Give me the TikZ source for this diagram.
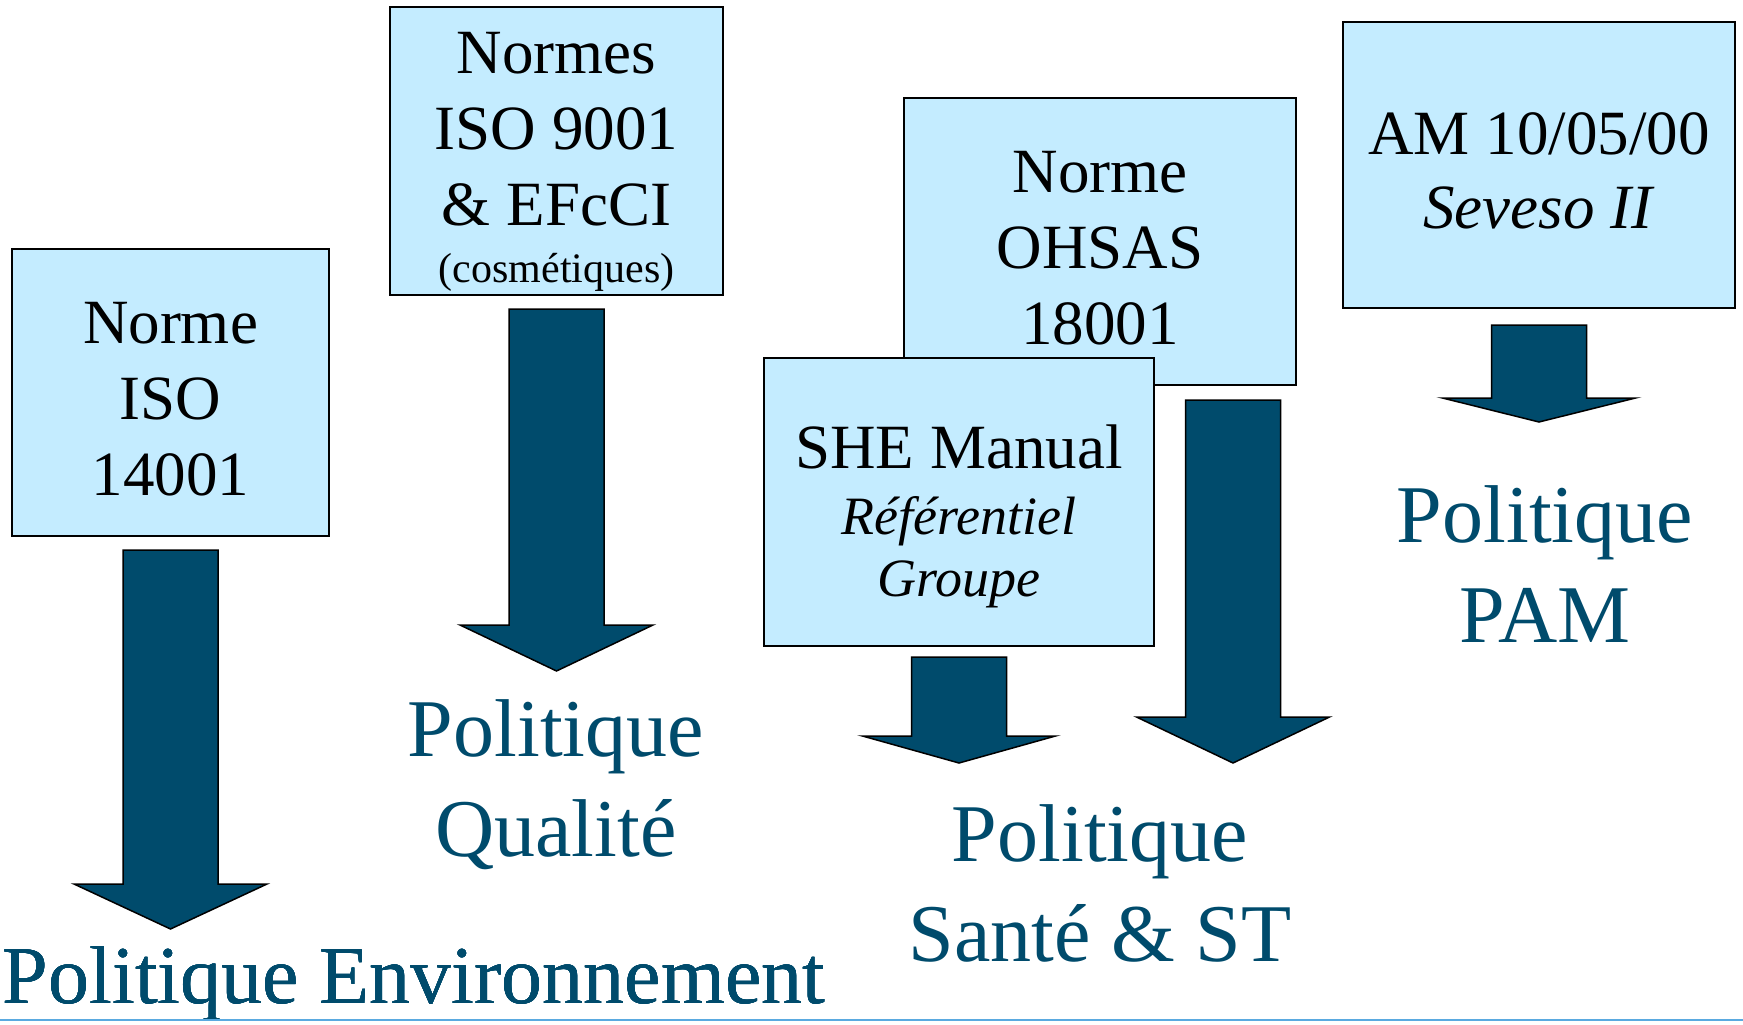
\documentclass[tikz,border=0pt]{standalone}
\usepackage{fontspec}
\setmainfont{Liberation Serif}
\definecolor{boxfill}{HTML}{C4ECFF}
\definecolor{petrole}{HTML}{004B6C}
\definecolor{ligne}{HTML}{5AAAE0}
\def\boxsize{\fontsize{63}{76}\selectfont}
\def\polsize{\fontsize{82}{100}\selectfont}
\def\fleche#1#2#3#4{
  \draw[flechebody] (#1-47.5,#2) -- (#1+47.5,#2) -- (#1+47.5,#3) -- (#1+96.5,#3)
    -- (#1,#4) -- (#1-96.5,#3) -- (#1-47.5,#3) -- cycle;
}
\tikzset{normbox/.style={draw=black,line width=1.5pt,fill=boxfill,inner sep=0pt},
  normtxt/.style={align=center,inner sep=0pt,font=\boxsize},
  flechebody/.style={draw=black,line width=1.5pt,fill=petrole,line join=miter},
  politique/.style={text=petrole,align=center,inner sep=0pt,font=\polsize,anchor=base}}

\begin{document}
\begin{tikzpicture}[x=1pt,y=-1pt]
  \useasboundingbox (0,0) rectangle (1743,1025);
  % les normes
  \node[normbox,minimum width=317pt,minimum height=287pt] (iso14) at (170.5,392.5) {};
  \node[normtxt] (iso14txt) at ([yshift=-7pt]iso14.center) {Norme\\ISO\\14001};
  \node[normbox,minimum width=333pt,minimum height=288pt] (iso9) at (556.5,151) {};
  \node[normtxt] (iso9txt) at ([yshift=-11pt]iso9.center)
    {Normes\\ISO 9001\\\& EFcCI\\[-19pt]{\fontsize{42}{50}\selectfont (cosmétiques)}};
  \node[normbox,minimum width=392pt,minimum height=287pt] (ohsas) at (1100,241.5) {};
  \node[normtxt] (ohsastxt) at ([yshift=-7pt]ohsas.center) {Norme\\OHSAS\\18001};
  \node[normbox,minimum width=390pt,minimum height=288pt] (she) at (959,502) {};
  \node[normtxt] (shetxt) at ([yshift=-14pt]she.center)
    {SHE Manual\\[-10pt]{\fontsize{54}{64}\selectfont\itshape Référentiel}\\[-14pt]{\fontsize{54}{64}\selectfont\itshape Groupe}};
  \node[normbox,minimum width=392pt,minimum height=286pt] (seveso) at (1539,165) {};
  \node[normtxt] (sevesotxt) at ([yshift=-6pt]seveso.center) {AM 10/05/00\\[-2pt]\textit{Seveso II}};
  % les fleches
  \foreach \cx/\top/\neck/\tip in {170.5/550/884/929,556.5/309/625/671,959/657/736/763,1233/400/717/763,1539/325/398/422}
    \fleche{\cx}{\top}{\neck}{\tip}
  % les politiques
  \node[politique] (penv) at (414,1003) {Politique Environnement};
  \node[politique] (pqual) at (556,856) {Politique\\Qualité};
  \node[politique] (psante) at (1100,961) {Politique\\Santé \& ST};
  \node[politique] (ppam) at (1545,642) {Politique\\PAM};
  \draw[ligne,line width=2pt] (0,1020) -- (1743,1020);
\end{tikzpicture}
\end{document}
